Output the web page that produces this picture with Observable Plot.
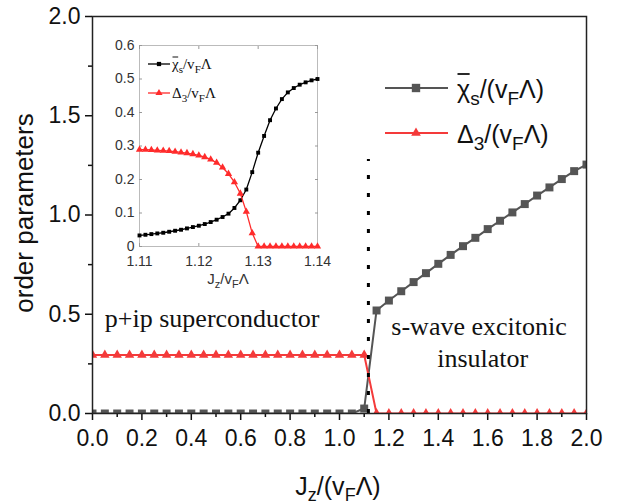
<!DOCTYPE html>
<html><head><meta charset="utf-8">
<script src="https://cdn.jsdelivr.net/npm/d3@7"></script>
<script src="https://cdn.jsdelivr.net/npm/@observablehq/plot@0.6"></script>
<style>
body{margin:0;background:#fff;}
#wrap{position:relative;width:626px;height:504px;overflow:hidden;}
#inset{position:absolute;left:100px;top:35px;}
</style></head><body><div id="wrap"><div id="main"></div><div id="inset"></div></div>
<script>
// ---- main panel data ----
const jz = [0,0.05,0.1,0.15,0.2,0.25,0.3,0.35,0.4,0.45,0.5,0.55,0.6,0.65,0.7,0.75,0.8,0.85,0.9,0.95,1.0,1.05,1.1,
            1.15,1.2,1.25,1.3,1.35,1.4,1.45,1.5,1.55,1.6,1.65,1.7,1.75,1.8,1.85,1.9,1.95,2.0];
const chiMain = [0,0,0,0,0,0,0,0,0,0,0,0,0,0,0,0,0,0,0,0,0,0,0.025,
                 0.519,0.569,0.616,0.662,0.707,0.754,0.799,0.843,0.885,0.929,0.971,1.013,1.055,1.098,1.139,1.181,1.221,1.254];
const deltaMain = [0.295,0.295,0.295,0.295,0.295,0.295,0.295,0.295,0.295,0.295,0.295,0.295,0.295,0.295,0.295,0.295,0.295,0.295,0.295,0.295,0.295,0.295,0.295,
                   0,0,0,0,0,0,0,0,0,0,0,0,0,0,0,0,0,0];
const xTicksMajor = [0,0.2,0.4,0.6,0.8,1.0,1.2,1.4,1.6,1.8,2.0];
const xTicksMinor = [0.1,0.3,0.5,0.7,0.9,1.1,1.3,1.5,1.7,1.9];
const yTicksMajor = [0,0.5,1.0,1.5,2.0];
const yTicksMinor = [0.25,0.75,1.25,1.75];
const transitionJz = [1.117];
const transitionTop = 1.28;
const annotations = [
  {x:0.05, y:0.48, text:"p+ip superconductor", anchor:"start"},
  {x:1.565, y:0.435, text:"s-wave excitonic", anchor:"middle"},
  {x:1.58, y:0.274, text:"insulator", anchor:"middle"}
];
// ---- inset data ----
const jzInset = [1.110,1.111,1.112,1.113,1.114,1.115,1.116,1.117,1.118,1.119,1.120,1.121,1.122,1.123,1.124,1.125,
                 1.126,1.127,1.128,1.129,1.130,1.131,1.132,1.133,1.134,1.135,1.136,1.137,1.138,1.139,1.140];
const chiInset = [0.033,0.035,0.037,0.039,0.041,0.044,0.047,0.050,0.054,0.058,0.062,0.067,0.073,0.080,0.088,0.098,
                  0.115,0.138,0.170,0.222,0.280,0.330,0.377,0.412,0.440,0.460,0.473,0.483,0.490,0.496,0.500];
const deltaInset = [0.289,0.289,0.288,0.287,0.286,0.285,0.283,0.281,0.279,0.276,0.272,0.267,0.260,0.250,0.236,0.217,
                    0.192,0.158,0.104,0.040,0,0,0,0,0,0,0,0,0,0,0];
const insetXTicks = [1.11,1.12,1.13,1.14];
const insetYTicks = [0,0.1,0.2,0.3,0.4,0.5,0.6];

const GRAY = "#555555", RED = "#f43a3a";
const SANS = "'Liberation Sans', Arial, sans-serif";
const SERIF = "'Liberation Serif', 'Times New Roman', serif";

const mainData = jz.map((x,i)=>({x, chi: chiMain[i], delta: deltaMain[i]}));
const main = Plot.plot({
  width:626, height:504, marginLeft:92, marginRight:40, marginTop:16, marginBottom:91,
  style:{fontFamily:SANS, fontSize:"23px", color:"#111", background:"transparent", overflow:"visible"},
  x:{domain:[0,2]}, y:{domain:[0,2]},
  marks:[
    Plot.axisX({ticks:xTicksMinor, tickSize:4, tickFormat:()=>"", label:null, strokeWidth:1.5}),
    Plot.axisX({ticks:xTicksMajor, tickSize:7, tickPadding:9, tickFormat:d=>d.toFixed(1), label:null, strokeWidth:1.5}),
    Plot.axisY({ticks:yTicksMinor, tickSize:4, tickFormat:()=>"", label:null, strokeWidth:1.5}),
    Plot.axisY({ticks:yTicksMajor, tickSize:7, tickPadding:5, tickFormat:d=>d.toFixed(1), label:null, strokeWidth:1.5}),
    Plot.line(mainData, {x:"x", y:"chi", stroke:GRAY, strokeWidth:2, clip:true}),
    Plot.dot(mainData, {x:"x", y:"chi", symbol:"square", r:4.5, fill:GRAY, clip:true}),
    Plot.line(mainData, {x:"x", y:"delta", stroke:RED, strokeWidth:2, clip:true}),
    Plot.dot(mainData, {x:"x", y:"delta", symbol:"triangle", r:3.5, fill:RED, clip:true}),
    Plot.ruleX(transitionJz, {x:d=>d, y1:0, y2:transitionTop, stroke:"#000", strokeWidth:3, strokeDasharray:"4,14"}),
    Plot.text(annotations.filter(d=>d.anchor==="start"), {x:"x", y:"y", text:"text", textAnchor:"start", fontFamily:SERIF, fontSize:26, fill:"#111"}),
    Plot.text(annotations.filter(d=>d.anchor==="middle"), {x:"x", y:"y", text:"text", textAnchor:"middle", fontFamily:SERIF, fontSize:26, fill:"#111"}),
    Plot.frame({stroke:"#222", strokeWidth:1.5})
  ]
});
document.getElementById("main").appendChild(main);

// axis titles and legend (text with subscripts)
const msvg = d3.select(main);
function richText(sel, parts, subSize, shift){
  parts.forEach(p=>{
    if (p.sub) sel.append("tspan").attr("font-size", subSize).attr("dy", shift).text(p.t);
    else if (p.after) sel.append("tspan").attr("dy", -shift).text(p.t);
    else sel.append("tspan").text(p.t);
  });
}
function overbar(textSel, baseline, rise, color, width){
  const node = textSel.node();
  const ext = node.getExtentOfChar(0);
  textSel.select(function(){ return this.parentNode; }).append("line")
    .attr("x1", ext.x + 0.5).attr("x2", ext.x + ext.width - 0.5)
    .attr("y1", baseline - rise).attr("y2", baseline - rise)
    .attr("stroke", color).attr("stroke-width", width);
}
msvg.append("text").attr("transform","translate(33,213) rotate(-90)").attr("text-anchor","middle")
  .attr("font-family",SANS).attr("font-size",26).attr("fill","#111").text("order parameters");
const xl = msvg.append("text").attr("x",338).attr("y",495).attr("text-anchor","middle")
  .attr("font-family",SANS).attr("font-size",25).attr("fill","#111");
richText(xl, [{t:"J"},{t:"z",sub:true},{t:"/(v",after:true},{t:"F",sub:true},{t:"Λ)",after:true}], 18, 6);

const legendItems = [
  {color:GRAY, symbol:d3.symbolSquare, size:70, bar:true, parts:[{t:"χ"},{t:"s",sub:true},{t:"/(v",after:true},{t:"F",sub:true},{t:"Λ)",after:true}]},
  {color:RED, symbol:d3.symbolTriangle, size:40, bar:false, parts:[{t:"Δ"},{t:"3",sub:true},{t:"/(v",after:true},{t:"F",sub:true},{t:"Λ)",after:true}]}
];
legendItems.forEach((it,i)=>{
  const y = 88 + i*45;
  const g = msvg.append("g");
  g.append("line").attr("x1",385).attr("x2",448).attr("y1",y).attr("y2",y).attr("stroke",it.color).attr("stroke-width",2);
  g.append("path").attr("d", d3.symbol(it.symbol, it.size)()).attr("transform",`translate(416,${y})`).attr("fill",it.color);
  const t = g.append("text").attr("x",457).attr("y",y+10).attr("text-anchor","start")
    .attr("font-family",SANS).attr("font-size",25).attr("fill","#111");
  richText(t, it.parts, 19, 7);
  if (it.bar) overbar(t, y+10, 24, "#111", 1.8);
});

// ---- inset ----
const insetData = jzInset.map((x,i)=>({x, chi: chiInset[i], delta: deltaInset[i]}));
const inset = Plot.plot({
  width:230, height:262, marginLeft:39, marginRight:13, marginTop:10, marginBottom:51,
  style:{fontFamily:SANS, fontSize:"14px", color:"#333", background:"transparent", overflow:"visible"},
  x:{domain:[1.11,1.14]}, y:{domain:[0,0.6]},
  marks:[
    Plot.frame({stroke:"#bbb"}),
    Plot.axisX({ticks:insetXTicks, tickSize:-3, tickFormat:()=>"", label:null, stroke:"#999"}),
    Plot.axisX({anchor:"top", ticks:insetXTicks, tickSize:-3, tickFormat:()=>"", label:null, stroke:"#999"}),
    Plot.axisY({ticks:insetYTicks, tickSize:-3, tickFormat:()=>"", label:null, stroke:"#999"}),
    Plot.axisY({anchor:"right", ticks:insetYTicks, tickSize:-3, tickFormat:()=>"", label:null, stroke:"#999"}),
    Plot.axisX({ticks:insetXTicks, tickSize:0, tickPadding:10, tickFormat:d=>d.toFixed(2), label:null}),
    Plot.axisY({ticks:insetYTicks, tickSize:0, tickPadding:5, tickFormat:d=>d===0?"0":d.toFixed(1), label:null}),
    Plot.line(insetData, {x:"x", y:"chi", stroke:"#000", strokeWidth:1.3}),
    Plot.dot(insetData, {x:"x", y:"chi", symbol:"square", r:2.2, fill:"#000"}),
    Plot.line(insetData, {x:"x", y:"delta", stroke:"#ff2b2b", strokeWidth:1.3}),
    Plot.dot(insetData, {x:"x", y:"delta", symbol:"triangle", r:2.7, fill:"#ff2b2b"})
  ]
});
document.getElementById("inset").appendChild(inset);
const isvg = d3.select(inset);
const ixl = isvg.append("text").attr("x",128).attr("y",249).attr("text-anchor","middle")
  .attr("font-family",SANS).attr("font-size",15).attr("fill","#333");
richText(ixl, [{t:"J"},{t:"z",sub:true},{t:"/v",after:true},{t:"F",sub:true},{t:"Λ",after:true}], 11, 4);
const insetLegend = [
  {color:"#000", symbol:d3.symbolSquare, size:18, bar:true, parts:[{t:"χ"},{t:"s",sub:true},{t:"/v",after:true},{t:"F",sub:true},{t:"Λ",after:true}]},
  {color:"#ff2b2b", symbol:d3.symbolTriangle, size:22, bar:false, parts:[{t:"Δ"},{t:"3",sub:true},{t:"/v",after:true},{t:"F",sub:true},{t:"Λ",after:true}]}
];
insetLegend.forEach((it,i)=>{
  const y = 29 + i*29;
  const g = isvg.append("g");
  g.append("line").attr("x1",48).attr("x2",70).attr("y1",y).attr("y2",y).attr("stroke",it.color).attr("stroke-width",1.3);
  g.append("path").attr("d", d3.symbol(it.symbol, it.size)()).attr("transform",`translate(59,${y})`).attr("fill",it.color);
  const t = g.append("text").attr("x",72).attr("y",y+5).attr("text-anchor","start")
    .attr("font-family",SERIF).attr("font-size",15).attr("fill","#111");
  richText(t, it.parts, 11, 4);
  if (it.bar) overbar(t, y+5, 12, "#111", 1);
});
</script></body></html>
